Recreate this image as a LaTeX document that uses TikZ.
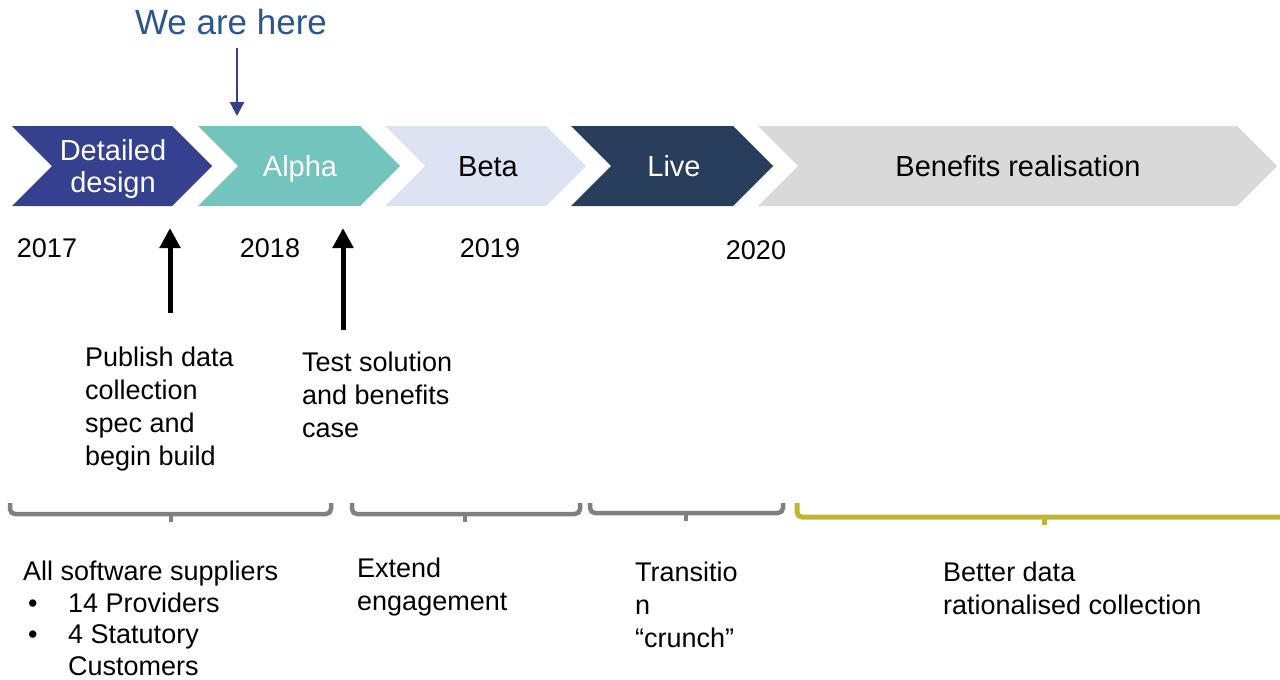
\documentclass[tikz,border=0pt]{standalone}
\usepackage{fontspec}
\setmainfont{Liberation Sans}
\usetikzlibrary{arrows.meta,calc}

\definecolor{cDesign}{RGB}{53,64,143}
\definecolor{cAlpha}{RGB}{115,196,188}
\definecolor{cBeta}{RGB}{221,227,243}
\definecolor{cLive}{RGB}{40,61,92}
\definecolor{cBenefit}{RGB}{217,217,217}
\definecolor{cHere}{RGB}{44,86,142}
\definecolor{cHereArrow}{RGB}{51,63,143}
\definecolor{cBrace}{RGB}{128,128,128}
\definecolor{cBraceY}{RGB}{191,181,48}

% phase chevron: left edge, shoulder, colour
\newcommand{\phase}[3]{\fill[#3] (#1,126) -- (#2,126) -- (#2+40,166) -- (#2,206) -- (#1,206) -- (#1+40,166) -- cycle;}
% bracket: left, right, tick, level, style
\newcommand{\bracket}[5]{\draw[#5, rounded corners=5pt] (#1,503) -- (#1,#4) -- (#2,#4) -- (#2,503);
                         \draw[#5] (#3,#4) -- (#3,#4+8);}

\begin{document}
\begin{tikzpicture}[x=1pt, y=-1pt]
                       \tikzstyle{lbl}=[anchor=base, align=center, inner sep=0pt, font=\fontsize{29}{32}\selectfont]
                       \tikzstyle{yr}=[anchor=base, inner sep=0pt, font=\fontsize{27}{33}\selectfont]
                       \tikzstyle{txt}=[anchor=base west, align=left, inner sep=0pt, font=\fontsize{27}{33}\selectfont]
                       \tikzstyle{milestone}=[-{Triangle[width=20pt,length=20pt]}, line width=5pt]
                       \tikzstyle{brace}=[line width=4.5pt, cBrace]
                       \useasboundingbox (0,0) rectangle (1280,680);

                        % Phases
                        \phase{12}{172}{cDesign}
                        \phase{198}{360}{cAlpha}
                        \phase{385}{546}{cBeta}
                        \phase{571}{733}{cLive}
                        \phase{758}{1237}{cBenefit}
                        % (base of a multi-line node = its last line)
                        \node[lbl, white] (design) at (113,192.5) {Detailed\\design};
                        \node[lbl, white] (alpha) at (300,176.5) {Alpha};
                        \node[lbl] (beta) at (488,176.5) {Beta};
                        \node[lbl, white] (live) at (674,176.5) {Live};
                        \node[lbl] (benefits) at (1018,176.5) {Benefits realisation};

                        % We are here
                        \node[anchor=base, inner sep=0pt, cHere, font=\fontsize{35}{40}\selectfont] (here) at (231,34.5) {We are here};
                        \coordinate (herept) at (237,116);
                        \draw[-{Triangle[width=14pt,length=14pt]}, line width=2.5pt, cHereArrow, shorten <=13pt] (here.south -| herept) -- (herept);

                        % Years
                        \node[yr] (y17) at (47,257.5) {2017};
                        \node[yr] (y18) at (270,257.5) {2018};
                        \node[yr] (y19) at (490,257.5) {2019};
                        \node[yr] (y20) at (756,259.5) {2020};

                        % Milestones
                        \coordinate (m1) at (170,228);
                        \coordinate (m1b) at (170,313);
                        \coordinate (m2) at (343,228);
                        \coordinate (m2b) at (343,330);
                        \draw[milestone] (m1b) -- (m1);
                        \draw[milestone] (m2b) -- (m2);
                        \node[txt] (publish) at (85,465) {Publish data\\collection\\spec and\\begin build};
                        \node[txt] (test) at (302,437.5) {Test solution\\and benefits\\case};

                        % Brackets
                        \bracket{10}{331}{171}{514}{brace}
                        \bracket{352}{580}{465}{514}{brace}
                        \bracket{590}{783}{686}{513}{brace}
                        \bracket{797}{1300}{1044}{517}{line width=5pt, cBraceY}

                        % Engagement notes
                        \node[txt, font=\fontsize{27}{31.5}\selectfont] (suppliers) at (23,675) {All software suppliers\\
                          \hspace*{5pt}\makebox[40pt][l]{\textbullet}14 Providers\\
                          \hspace*{5pt}\makebox[40pt][l]{\textbullet}4 Statutory\\
                          \hspace*{45pt}Customers};
                        \node[txt] (extend) at (357,610.5) {Extend\\engagement};
                        \node[txt] (transition) at (635,647.5) {Transitio\\n\\“crunch”};
                        \node[txt] (better) at (943,614.5) {Better data\\rationalised collection};
                  \end{tikzpicture}
\end{document}
